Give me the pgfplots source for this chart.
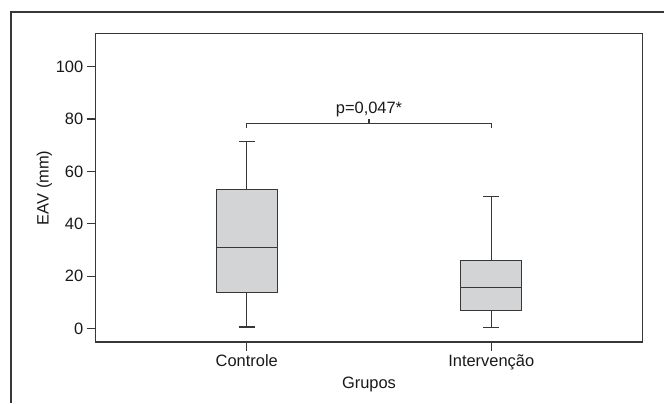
\documentclass[border=0pt]{standalone}
\usepackage{fontspec}
\setmainfont{Liberation Sans}
\usepackage{pgfplots}
\pgfplotsset{compat=1.18}
\usepgfplotslibrary{statistics}

\definecolor{boxfill}{RGB}{211,212,214}
\definecolor{linegray}{RGB}{55,55,55}

\begin{document}
\begin{tikzpicture}[x=1bp,y=1bp]
\path[use as bounding box] (0,0) rectangle (664,403);
% outer frame (only top and left visible)
\draw[linegray, line width=1.2bp] (11,0) -- (11,391) -- (664,391);

\begin{axis}[
  at={(95.7bp,61bp)}, anchor=south west,
  scale only axis, width=546.6bp, height=308.3bp,
  xmin=0.382, xmax=2.618, ymin=-5.1, ymax=112.6,
  xtick={1,2}, xticklabels={Controle,Intervenção},
  ytick={0,20,...,100},
  xtick pos=bottom, ytick pos=left,
  tick align=outside, major tick length=9bp,
  axis line style={linegray, line width=1.2bp},
  every tick/.style={linegray, line width=1.2bp},
  tick label style={font=\fontsize{16.5}{19}\selectfont, text=black!90},
  label style={font=\fontsize{16.5}{19}\selectfont, text=black!90},
  /pgf/number format/assume math mode=true,
  xlabel={Grupos}, ylabel={EAV (mm)},
  ylabel style={yshift=-3bp},
  boxplot/draw direction=y,
  clip=false,
]
\addplot+[boxplot prepared={
    median=31, upper quartile=53.1, lower quartile=13.9,
    upper whisker=71.3, lower whisker=0.65,
    draw position=1, box extend=0.25, whisker extend=0.065},
  draw=linegray, fill=boxfill, line width=1.2bp, solid, mark=none]
  coordinates {};
\addplot+[boxplot prepared={
    median=15.8, upper quartile=26.1, lower quartile=6.8,
    upper whisker=50.3, lower whisker=0.4,
    draw position=2, box extend=0.25, whisker extend=0.065},
  draw=linegray, fill=boxfill, line width=1.2bp, solid, mark=none]
  coordinates {};

% significance bracket
\draw[linegray, line width=1.2bp] (axis cs:1,76.7) -- (axis cs:1,78.4)
  -- (axis cs:2,78.4) -- (axis cs:2,76.7);
\draw[linegray, line width=1.2bp] (axis cs:1.5,78.4) -- (axis cs:1.5,80.2);
\node[anchor=south, inner sep=1bp, text=black!90,
  font=\fontsize{16.5}{19}\selectfont] at (axis cs:1.5,80.2) {p=0,047*};
\end{axis}
\end{tikzpicture}
\end{document}
